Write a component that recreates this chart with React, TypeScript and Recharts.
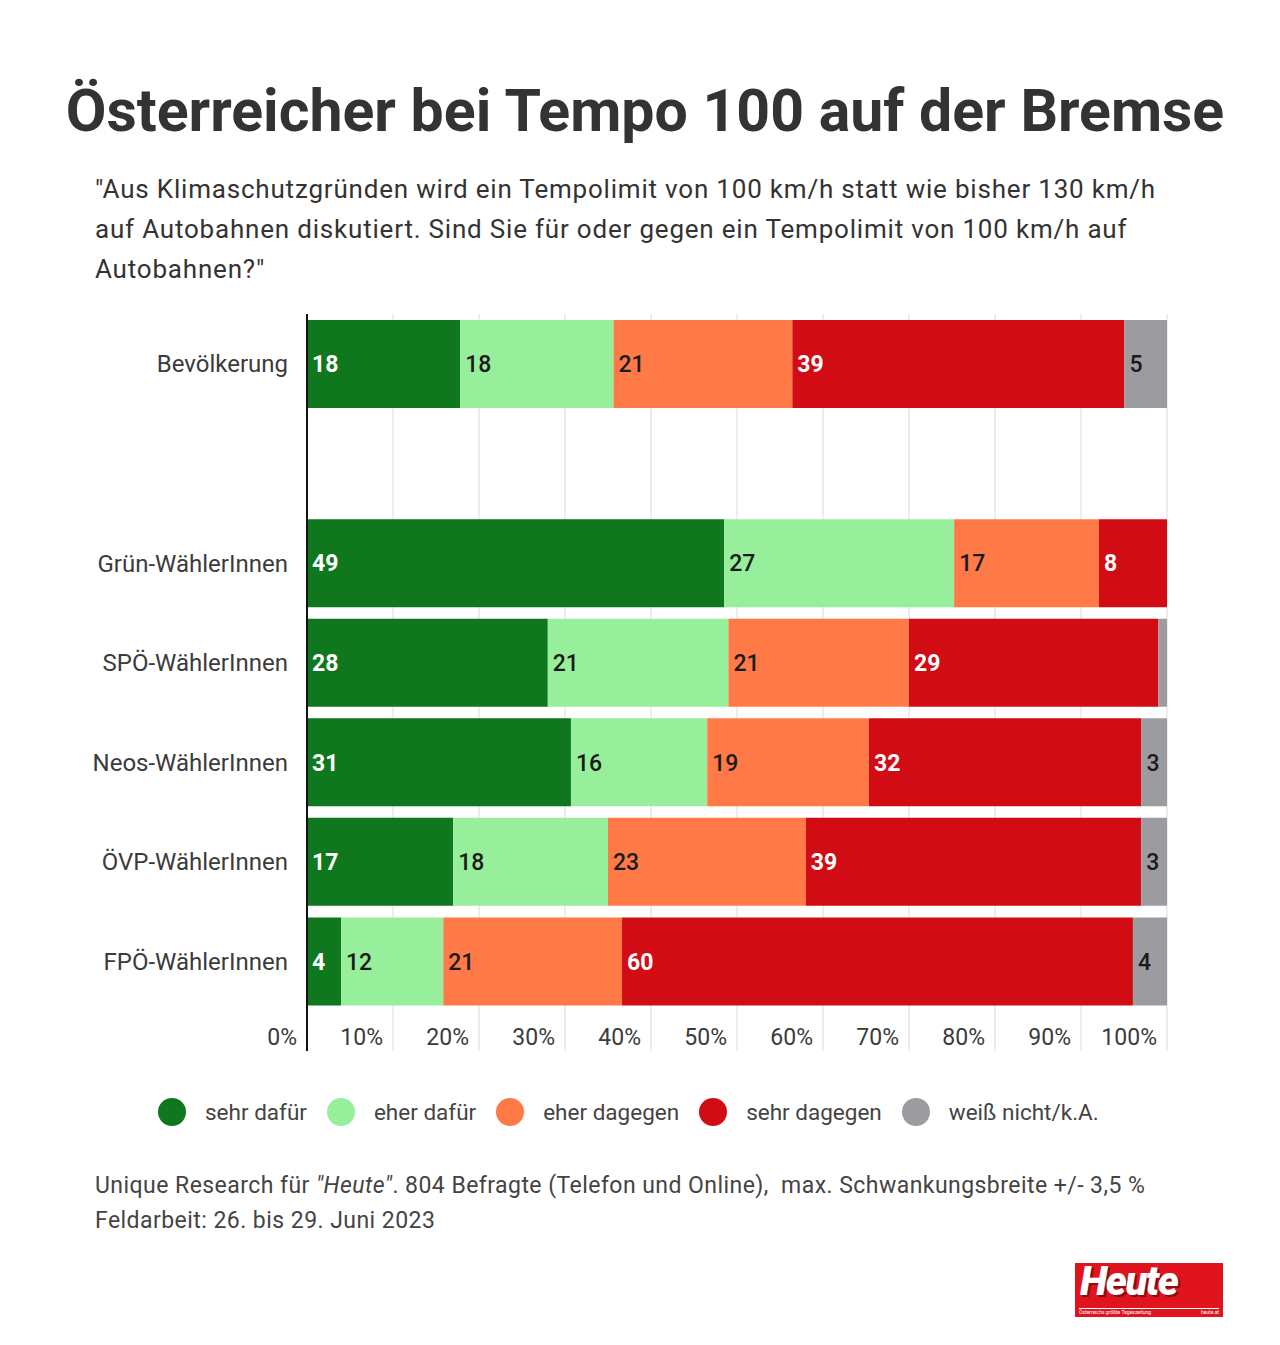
import { Bar, BarChart, CartesianGrid, LabelList, XAxis, YAxis } from "recharts";

const CATEGORIES = [
  "Bevölkerung",
  "",
  "Grün-WählerInnen",
  "SPÖ-WählerInnen",
  "Neos-WählerInnen",
  "ÖVP-WählerInnen",
  "FPÖ-WählerInnen",
];
const SEHR_DAFUER = [18, 0, 49, 28, 31, 17, 4];
const EHER_DAFUER = [18, 0, 27, 21, 16, 18, 12];
const EHER_DAGEGEN = [21, 0, 17, 21, 19, 23, 21];
const SEHR_DAGEGEN = [39, 0, 8, 29, 32, 39, 60];
const WEISS_NICHT = [5, 0, 0, 1, 3, 3, 4];

const TICKS = [0, 10, 20, 30, 40, 50, 60, 70, 80, 90, 100];

const SERIES = [
  { key: "sehrDafuer", name: "sehr dafür", color: "#0f771d", text: "#ffffff", weight: 700 },
  { key: "eherDafuer", name: "eher dafür", color: "#98ef9b", text: "#1a1a1a", weight: 500 },
  { key: "eherDagegen", name: "eher dagegen", color: "#ff7a47", text: "#1a1a1a", weight: 500 },
  { key: "sehrDagegen", name: "sehr dagegen", color: "#d10c14", text: "#ffffff", weight: 700 },
  { key: "weissNicht", name: "weiß nicht/k.A.", color: "#9c9ca0", text: "#1a1a1a", weight: 500 },
];

const data = CATEGORIES.map((name, i) => ({
  name,
  sehrDafuer: SEHR_DAFUER[i],
  eherDafuer: EHER_DAFUER[i],
  eherDagegen: EHER_DAGEGEN[i],
  sehrDagegen: SEHR_DAGEGEN[i],
  weissNicht: WEISS_NICHT[i],
}));

const FONT = "Roboto, 'Noto Sans', sans-serif";
const TEXT = "#3b3b3b";

function CategoryTick({ y, payload }: { y?: number; payload?: { value: string } }) {
  if (!payload?.value) return null;
  return (
    <text x={288} y={y} dy="0.36em" textAnchor="end" fill={TEXT} fontSize={24} fontFamily={FONT}>
      {payload.value}
    </text>
  );
}

function PercentTick({ x, y, payload }: { x?: number; y?: number; payload?: { value: number } }) {
  const v = payload?.value ?? 0;
  const zero = v === 0;
  return (
    <g>
      <line
        x1={x}
        x2={x}
        y1={y}
        y2={(y ?? 0) + 40}
        stroke={zero ? "#111" : "#dcdcdc"}
        strokeWidth={zero ? 2 : 1}
      />
      <text x={(x ?? 0) - 10} y={(y ?? 0) + 34} textAnchor="end" fill={TEXT} fontSize={23} fontFamily={FONT}>
        {Math.round(v * 100)}%
      </text>
    </g>
  );
}

function makeLabel(fill: string, weight: number) {
  return (props: any) => {
    const { x, y, height, value } = props;
    if (value == null || value < 2) return null;
    return (
      <text
        x={x + 5}
        y={y + height / 2}
        dy="0.36em"
        fill={fill}
        fontSize={23}
        fontWeight={weight}
        fontFamily={FONT}
      >
        {value}
      </text>
    );
  };
}

function HeuteLogo() {
  return (
    <div
      style={{
        position: "absolute",
        left: 1075,
        top: 1263,
        width: 148,
        height: 54,
        background: "#e0141c",
        fontFamily: FONT,
      }}
    >
      <div
        style={{
          position: "absolute",
          left: 5,
          top: -5,
          fontSize: 40,
          fontWeight: 900,
          fontStyle: "italic",
          color: "#fff",
          letterSpacing: -1.5,
          textShadow: "2px 2px 0 #8a0b10",
        }}
      >
        Heute
      </div>
      <div
        style={{
          position: "absolute",
          left: 4,
          right: 4,
          top: 45,
          height: 7,
          borderTop: "1px solid #fff",
          fontSize: 5,
          lineHeight: "7px",
          color: "#fff",
          display: "flex",
          justifyContent: "space-between",
        }}
      >
        <span>Österreichs größte Tageszeitung</span>
        <span>heute.at</span>
      </div>
    </div>
  );
}

export default function App() {
  return (
    <div
      style={{
        position: "relative",
        width: 1280,
        height: 1345,
        margin: -8,
        background: "#ffffff",
        fontFamily: FONT,
        color: TEXT,
        overflow: "hidden",
      }}
    >
      <div
        style={{
          position: "absolute",
          left: 0,
          width: 1290,
          top: 81,
          textAlign: "center",
          fontSize: 59,
          lineHeight: 1,
          fontWeight: 700,
          whiteSpace: "nowrap",
          color: "#333",
        }}
      >
        Österreicher bei Tempo 100 auf der Bremse
      </div>
      <div
        style={{
          position: "absolute",
          left: 95,
          top: 169,
          fontSize: 26,
          letterSpacing: 0.8,
          lineHeight: "40px",
          whiteSpace: "nowrap",
          color: "#333",
        }}
      >
        "Aus Klimaschutzgründen wird ein Tempolimit von 100 km/h statt wie bisher 130 km/h
        <br />
        auf Autobahnen diskutiert. Sind Sie für oder gegen ein Tempolimit von 100 km/h auf
        <br />
        Autobahnen?"
      </div>

      <div style={{ position: "absolute", left: 0, top: 300 }}>
        <BarChart
          width={1280}
          height={760}
          data={data}
          layout="vertical"
          stackOffset="expand"
          margin={{ top: 14, right: 113, bottom: 9, left: 0 }}
        >
          <CartesianGrid horizontal={false} stroke="#dcdcdc" />
          <XAxis
            type="number"
            domain={[0, 1]}
            ticks={TICKS.map((t) => t / 100)}
            height={40}
            axisLine={false}
            tickLine={false}
            tickSize={0}
            tickMargin={0}
            tick={<PercentTick />}
            interval={0}
          />
          <YAxis
            type="category"
            dataKey="name"
            width={307}
            axisLine={{ stroke: "#111", strokeWidth: 2 }}
            tickLine={false}
            tick={<CategoryTick />}
            interval={0}
          />
          {SERIES.map((s) => (
            <Bar
              key={s.key}
              dataKey={s.key}
              name={s.name}
              stackId="a"
              fill={s.color}
              barSize={88}
              isAnimationActive={false}
            >
              <LabelList dataKey={s.key} content={makeLabel(s.text, s.weight)} />
            </Bar>
          ))}
        </BarChart>
      </div>

      <div
        style={{
          position: "absolute",
          left: 158,
          top: 1098,
          height: 28,
          display: "flex",
          alignItems: "center",
          fontSize: 22.5,
          color: "#444",
          whiteSpace: "nowrap",
        }}
      >
        {SERIES.map((s) => (
          <div key={s.key} style={{ display: "flex", alignItems: "center", marginRight: 20 }}>
            <span
              style={{
                width: 28,
                height: 28,
                borderRadius: "50%",
                background: s.color,
                display: "inline-block",
                marginRight: 19,
              }}
            />
            <span>{s.name}</span>
          </div>
        ))}
      </div>

      <div
        style={{
          position: "absolute",
          left: 95,
          top: 1168,
          fontSize: 23,
          letterSpacing: 0.45,
          lineHeight: "35px",
          whiteSpace: "pre",
          color: "#444",
        }}
      >
        Unique Research für <i>"Heute"</i>. 804 Befragte (Telefon und Online),  max. Schwankungsbreite +/- 3,5 %
        <br />
        Feldarbeit: 26. bis 29. Juni 2023
      </div>

      <HeuteLogo />
    </div>
  );
}
